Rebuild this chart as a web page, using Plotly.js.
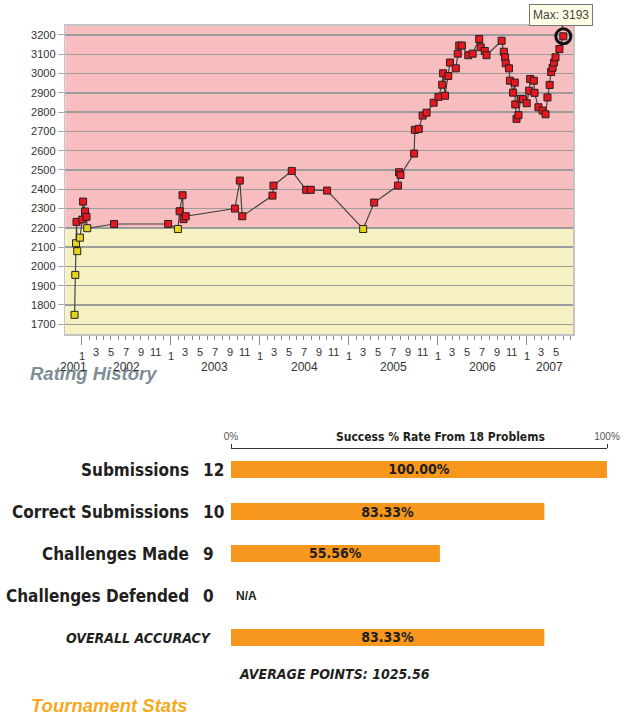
<!DOCTYPE html>
<html><head><meta charset="utf-8">
<script src="https://cdn.plot.ly/plotly-3.0.1.min.js"></script>
<style>html,body{margin:0;padding:0;background:#fff}#chart{width:637px;height:720px}</style>
</head><body><div id="chart"></div>
<script>
// ---------- DATA ----------
const ratingDates = [
 '2001-12-03','2001-12-06','2001-12-09','2001-12-11','2001-12-14','2001-12-25',
 '2002-01-04','2002-01-07','2002-01-15','2002-01-21','2002-01-24','2002-05-14',
 '2002-12-22','2003-01-31','2003-02-07','2003-02-19','2003-02-23','2003-03-04',
 '2003-09-22','2003-10-12','2003-10-22','2004-02-23','2004-02-27','2004-05-12',
 '2004-07-10','2004-07-29','2004-10-04','2005-03-01','2005-04-15','2005-07-22',
 '2005-07-26','2005-08-01','2005-09-26','2005-09-29','2005-10-15','2005-10-31',
 '2005-11-16','2005-12-15','2006-01-04','2006-01-19','2006-01-23','2006-01-31',
 '2006-02-13','2006-02-20','2006-03-16','2006-03-24','2006-03-30','2006-04-10',
 '2006-05-06','2006-05-24','2006-06-20','2006-06-26','2006-07-13','2006-07-20',
 '2006-09-20','2006-09-29','2006-10-04','2006-10-07','2006-10-20','2006-10-24',
 '2006-11-06','2006-11-13','2006-11-15','2006-11-20','2006-11-28','2006-12-07',
 '2006-12-17','2007-01-01','2007-01-11','2007-01-15','2007-01-30','2007-02-02',
 '2007-02-18','2007-03-07','2007-03-19','2007-03-27','2007-04-05','2007-04-11',
 '2007-04-17','2007-04-23','2007-04-29','2007-05-15','2007-05-31'
];
const ratingValues = [
 1749,1956,2120,2231,2079,2149,
 2243,2336,2285,2257,2198,2220,
 2220,2194,2286,2369,2245,2260,
 2300,2445,2260,2367,2419,2495,
 2397,2397,2393,2194,2331,2419,
 2488,2474,2585,2708,2713,2782,
 2797,2849,2879,2942,3001,2885,
 2987,3057,3027,3103,3145,3145,
 3095,3103,3179,3136,3117,3095,
 3170,3113,3084,3053,3027,2963,
 2901,2953,2840,2765,2784,2869,
 2867,2846,2911,2972,2963,2900,
 2825,2808,2789,2876,2941,3008,
 3030,3057,3084,3127,3193
];
const redThreshold = 2200;
const yTickVals = [1700,1800,1900,2000,2100,2200,2300,2400,2500,2600,2700,2800,2900,3000,3100,3200];
const tickYears = [2002,2003,2004,2005,2006,2007];
const labelMonths = [1,3,5,7,9,11];
const yearLabels = ['2001','2002','2003','2004','2005','2006','2007'];

const statLabels = ['Submissions','Correct Submissions','Challenges Made','Challenges Defended','OVERALL ACCURACY'];
const statCounts = ['12','10','9','0',''];
const statPercents = [100, 83.33, 55.56, null, 83.33];
const problemCount = 18;
const averagePoints = '1025.56';

// ---------- LAYOUT HELPERS ----------
const W = 637, H = 720;
const px = x => x / W;
const py = y => 1 - y / H;
const xRange = ['2001-10-26', '2007-07-11'];
const yRange = [1648, 3248];
const narrow = 'DejaVu Sans Condensed, Liberation Sans Narrow, sans-serif';
const arial = 'Liberation Sans, Arial, sans-serif';
const pad2 = n => (n < 10 ? '0' : '') + n;

let maxIdx = 0;
ratingValues.forEach((v, i) => { if (v > ratingValues[maxIdx]) maxIdx = i; });

const yearTicks = tickYears.map(y => y + '-01-01');
const monthTicks = [];
tickYears.forEach(y => { for (let m = 1; m <= 12; m++) { const d = y + '-' + pad2(m) + '-01'; if (d <= xRange[1]) monthTicks.push(d); } });

const annotations = [];
annotations.push({xref:'paper', yref:'paper', x:px(28), y:py(373), xanchor:'left', yanchor:'middle', showarrow:false,
  text:'<b><i>Rating History</i></b>', font:{family:arial, size:18.5, color:'#7f8d95'}});
const lastDate = ratingDates[ratingDates.length - 1];
tickYears.forEach(y => labelMonths.forEach(m => {
  const d = y + '-' + pad2(m) + '-01';
  if (d > lastDate) return;
  annotations.push({xref:'x', yref:'paper', x:d, y:py(m === 1 ? 355.7 : 351.7), xanchor:'center', yanchor:'middle',
    showarrow:false, text:String(m), font:{family:arial, size:11, color:'#333'}});
}));
const t0 = Date.parse(xRange[0]), t1 = Date.parse(xRange[1]);
yearLabels.forEach(ys => {
  const y = +ys;
  const a = Math.max(t0, Date.parse(y + '-01-01')), b = Math.min(t1, Date.parse((y + 1) + '-01-01'));
  const mid = new Date((a + b) / 2).toISOString().slice(0, 10);
  annotations.push({xref:'x', yref:'paper', x:mid, y:py(366.7), xanchor:'center', yanchor:'middle', showarrow:false,
    text:ys, font:{family:arial, size:12, color:'#333'}});
});
annotations.push({xref:'x', yref:'y', x:ratingDates[maxIdx], y:ratingValues[maxIdx], ax:-2, ay:-21,
  showarrow:true, arrowhead:0, arrowwidth:1.5, arrowcolor:'#333', standoff:8,
  text:'Max: ' + ratingValues[maxIdx], font:{family:arial, size:12, color:'#444'},
  bgcolor:'#ffffe6', bordercolor:'#777', borderwidth:1, borderpad:3});

annotations.push({xref:'paper', yref:'paper', x:px(440.6), y:py(437), xanchor:'center', yanchor:'middle', showarrow:false,
  text:'<b>Success % Rate From ' + problemCount + ' Problems</b>', font:{family:narrow, size:12, color:'#231f20'}});
statLabels.forEach((lab, i) => {
  const overall = i === statLabels.length - 1;
  annotations.push({xref:'paper', yref:'y2', x:px(overall ? 214 : 191.4), y:lab, xanchor:'right', yanchor:'middle', showarrow:false,
    text:overall ? '<b><i>' + lab + '</i></b>' : '<b>' + lab + '</b>', font:{family:narrow, size:overall ? 14 : 17, color:'#231f20'}});
  if (statCounts[i] !== '') annotations.push({xref:'paper', yref:'y2', x:px(201), y:lab, xanchor:'left', yanchor:'middle', showarrow:false,
    text:'<b>' + statCounts[i] + '</b>', font:{family:narrow, size:17, color:'#231f20'}});
  if (statPercents[i] === null) annotations.push({xref:'paper', yref:'y2', x:px(234), y:lab, xanchor:'left', yanchor:'middle', showarrow:false,
    text:'<b>N/A</b>', font:{family:arial, size:12, color:'#231f20'}});
});
annotations.push({xref:'paper', yref:'paper', x:px(334.5), y:py(674), xanchor:'center', yanchor:'middle', showarrow:false,
  text:'<b><i>AVERAGE POINTS: ' + averagePoints + '</i></b>', font:{family:narrow, size:14, color:'#231f20'}});
annotations.push({xref:'paper', yref:'paper', x:px(29), y:py(705), xanchor:'left', yanchor:'middle', showarrow:false,
  text:'<b><i>Tournament Stats</i></b>', font:{family:arial, size:18.5, color:'#f7a81b'}});

const traces = [
  {type:'scatter', mode:'lines+markers', x:ratingDates, y:ratingValues, xaxis:'x', yaxis:'y',
   line:{color:'#444', width:1.2},
   marker:{symbol:'square', size:7, color:ratingValues.map(v => v >= redThreshold ? '#e8161f' : '#e6d41c'), line:{color:'#222', width:1}},
   hoverinfo:'skip'},
  {type:'scatter', mode:'markers', x:[ratingDates[maxIdx]], y:[ratingValues[maxIdx]], xaxis:'x', yaxis:'y',
   marker:{symbol:'circle-open', size:15, color:'#111', line:{color:'#111', width:3}}, hoverinfo:'skip'},
  {type:'bar', orientation:'h', x:statPercents, y:statLabels, xaxis:'x2', yaxis:'y2', width:0.405,
   marker:{color:'#f7971d', line:{width:0}},
   text:statPercents.map(v => v === null ? '' : v.toFixed(2) + '%'), textposition:'inside', insidetextanchor:'middle',
   textangle:0, constraintext:'none', textfont:{family:narrow, size:14, weight:700, color:'#231f20'}, hoverinfo:'skip'}
];

const layout = {
  width:W, height:H, margin:{l:0, r:0, t:0, b:0}, showlegend:false,
  paper_bgcolor:'#ffffff', plot_bgcolor:'rgba(0,0,0,0)',
  xaxis:{type:'date', range:xRange, domain:[px(65.3), px(573.3)], anchor:'y', showgrid:false, zeroline:false,
    showline:true, linecolor:'#c4c4c4', linewidth:1.5, mirror:true,
    tickmode:'array', tickvals:yearTicks, ticks:'outside', ticklen:9, tickcolor:'#888', tickwidth:1, showticklabels:false,
    minor:{tickmode:'array', tickvals:monthTicks, ticks:'outside', ticklen:4, tickcolor:'#888', tickwidth:1, showgrid:false}},
  yaxis:{range:yRange, domain:[py(334.3), py(25.7)], anchor:'x', tickmode:'array', tickvals:yTickVals,
    showgrid:true, gridcolor:'#9c9c9c', gridwidth:1.5, zeroline:false,
    showline:true, linecolor:'#c4c4c4', linewidth:1.5, mirror:true,
    ticks:'outside', ticklen:6, tickcolor:'#aaa', tickfont:{family:arial, size:11, color:'#333'}},
  xaxis2:{range:[0,100], domain:[px(231), px(607)], anchor:'y2', side:'top', showgrid:false, zeroline:false,
    showline:true, linecolor:'#333', linewidth:1, ticks:'outside', ticklen:4, tickcolor:'#333',
    tickmode:'array', tickvals:[0,100], ticktext:['0%','100%'], tickfont:{family:arial, size:10, color:'#555'}},
  yaxis2:{type:'category', categoryorder:'array', categoryarray:statLabels, range:[4.5,-0.5],
    domain:[py(658.5), py(448.5)], anchor:'x2', showticklabels:false, showgrid:false, zeroline:false, showline:false, ticks:''},
  shapes:[
    {type:'rect', xref:'x domain', yref:'y', x0:0, x1:1, y0:redThreshold, y1:yRange[1], fillcolor:'#f7bdbf', line:{width:0}, layer:'below'},
    {type:'rect', xref:'x domain', yref:'y', x0:0, x1:1, y0:yRange[0], y1:redThreshold, fillcolor:'#f6f1c3', line:{width:0}, layer:'below'}
  ],
  annotations:annotations
};
Plotly.newPlot('chart', traces, layout, {staticPlot:true, displayModeBar:false});
</script></body></html>
